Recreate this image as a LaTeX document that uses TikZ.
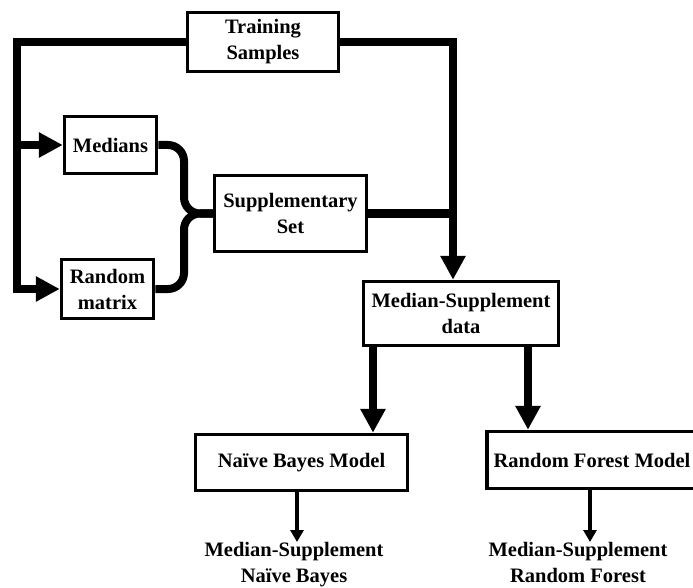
\documentclass[tikz,border=0pt]{standalone}
\usepackage{fontspec}
\setmainfont{Liberation Serif}
\usetikzlibrary{arrows.meta,calc}
\begin{document}
\begin{tikzpicture}[x=1pt,y=-1pt,
  txt/.style={font=\bfseries\fontsize{20.5}{26}\selectfont},
  box/.style={draw,line width=3.5pt,inner sep=0pt,align=center,txt},
  lbl/.style={inner sep=0pt,align=center,txt},
  thickline/.style={line width=8pt,line join=miter},
  bigarrow/.style={line width=8pt,line join=miter,-{Triangle[width=24pt,length=24pt]}},
  thinarrow/.style={line width=3.5pt,-{Triangle[width=13pt,length=12pt]}},
  brace/.style={line width=8pt,rounded corners=16pt}]
\useasboundingbox (0,0) rectangle (693,588);
\fill[white] (0,0) rectangle (693,588);
% boxes
\node[box,minimum width=151pt,minimum height=59pt] (ts) at (263,42) {Training\\Samples};
\node[box,minimum width=92pt,minimum height=57pt] (med) at (110.5,145) {Medians};
\node[box,minimum width=92pt,minimum height=59pt] (rm) at (107.5,289) {Random\\matrix};
\node[box,minimum width=152pt,minimum height=76pt] (ss) at (290.5,213.5) {Supplementary\\Set};
\node[box,minimum width=195pt,minimum height=64pt] (msd) at (461,313.5) {Median-Supplement\\data};
\node[box,minimum width=212pt,minimum height=56pt] (nbm) at (301.5,462.5) {Na\"ive Bayes Model};
\node[box,minimum width=210pt,minimum height=57pt] (rfm) at (592,460) {Random Forest Model};
\node[lbl,anchor=north] (nbt) at (294,542) {Median-Supplement\\Na\"ive Bayes};
\node[lbl,anchor=north] (rft) at (578,542) {Median-Supplement\\Random Forest};
% coordinates
\coordinate (L) at (17,42);
\coordinate (R) at ([xshift=-8pt]msd.north);
\coordinate (B) at (184,213.5);
% left feed
\draw[bigarrow] (ts.west) -| (L |- rm.west) -- (rm.west);
\draw[bigarrow] (L |- med.west) -- (med.west);
% right feed
\draw[bigarrow] (ts.east) -| (R);
\draw[thickline] (ss.east) -- (ss.east -| R);
% brace
\draw[brace] (med.east) -| (B) -- (ss.west);
\draw[brace] (rm.east) -| (B) -- (ss.west);
% to models
\draw[bigarrow] ([xshift=-88pt]msd.south) -- ([xshift=-88pt]msd.south |- nbm.north);
\draw[bigarrow] ([xshift=67pt]msd.south) -- ([xshift=67pt]msd.south |- rfm.north);
% outputs
\draw[thinarrow] ([xshift=-4.5pt]nbm.south) -- ([xshift=-4.5pt]nbm.south |- nbt.north);
\draw[thinarrow] ([xshift=-2pt]rfm.south) -- ([xshift=-2pt]rfm.south |- rft.north);
\end{tikzpicture}
\end{document}
